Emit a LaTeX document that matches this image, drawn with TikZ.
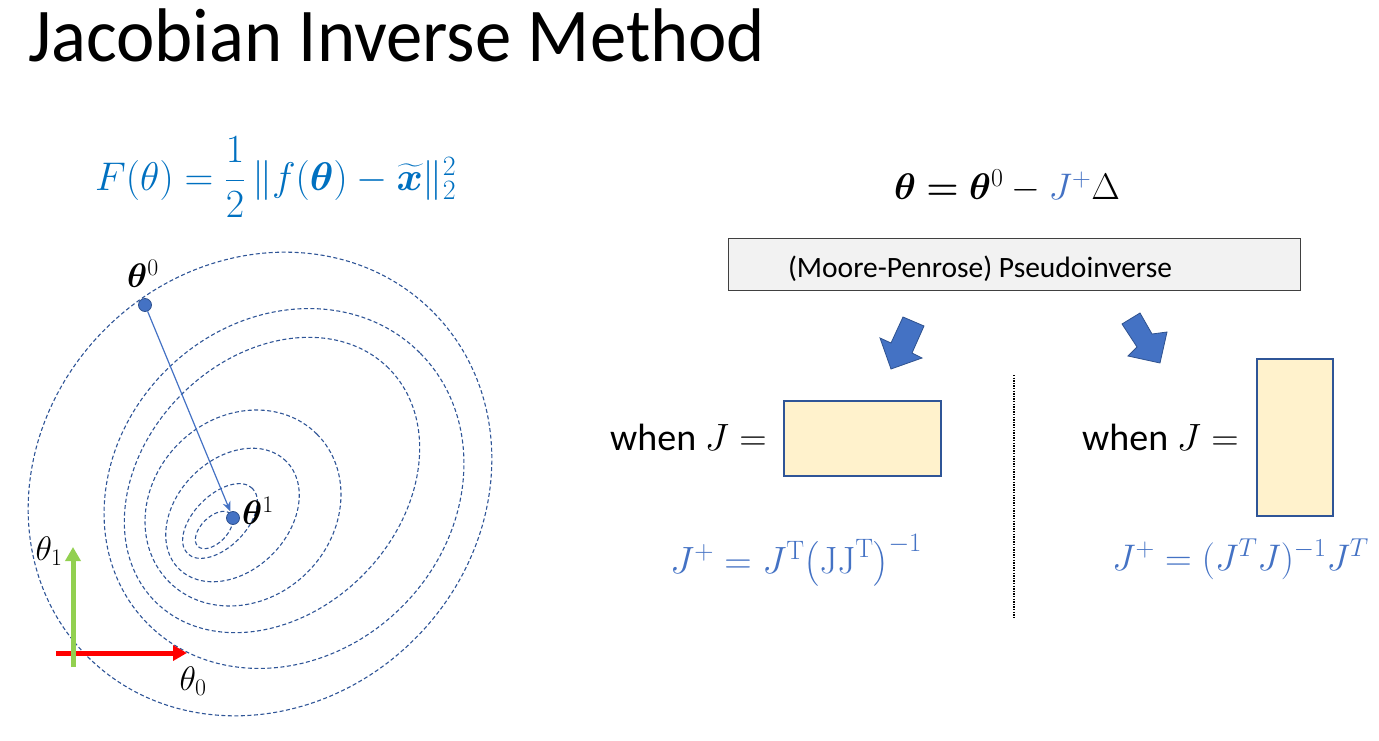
\RequirePackage{fix-cm}
\documentclass[tikz,border=0pt]{standalone}
\usepackage{amsmath,bm}
\usepackage[no-math]{fontspec}
\setmainfont{Carlito}
\usetikzlibrary{arrows.meta}
\definecolor{fblue}{RGB}{0,112,192}
\definecolor{jblue}{RGB}{68,114,196}
\definecolor{jdark}{RGB}{47,82,143}
\definecolor{contour}{RGB}{47,85,151}
\definecolor{ybg}{RGB}{255,242,204}
\definecolor{boxbg}{RGB}{242,242,242}
\definecolor{boxline}{RGB}{64,64,64}
\definecolor{agreen}{RGB}{146,208,80}
\definecolor{ared}{RGB}{255,0,0}
\tikzset{
  contourline/.style={draw=contour, line width=1.1pt, dash pattern=on 4pt off 2.5pt},
  ybox/.style={draw=contour, fill=ybg, line width=1.5pt, inner sep=0},
  dotpt/.style={circle, fill=jblue, draw=jdark, line width=0.8pt, minimum size=13pt, inner sep=0},
  blockarrow/.style={fill=jblue, draw=jdark, line width=0.8pt, line join=miter},
  plain/.style={inner sep=0}
}
\begin{document}
\begin{tikzpicture}[x=1pt,y=-1pt]
\useasboundingbox (0,0) rectangle (1379,741);
% title
\node[plain, anchor=base west] (title) at (28,62) {\scalebox{0.957}[1]{\fontsize{76}{80}\selectfont Jacobian Inverse Method}};
% cost formula
\node[plain, anchor=base west, text=fblue] (cost) at (95,190) {\fontsize{40}{45}\selectfont $F(\theta) = \dfrac{1}{2}\,\|f(\bm{\theta}) - \widetilde{\bm{x}}\|_2^2$};
% contours
\draw[contourline, rotate around={45:(260,484)}] (260,484) ellipse [x radius=244pt, y radius=219pt];
\draw[contourline, rotate around={45:(284,488.5)}] (284,488.5) ellipse [x radius=192pt, y radius=167pt];
\draw[contourline, rotate around={45:(272,485)}] (272,485) ellipse [x radius=165pt, y radius=128pt];
\draw[contourline, rotate around={45:(243,508)}] (243,508) ellipse [x radius=104.5pt, y radius=91pt];
\draw[contourline, rotate around={45:(232.5,515)}] (232.5,515) ellipse [x radius=76pt, y radius=56pt];
\draw[contourline, rotate around={45:(220,521)}] (220,521) ellipse [x radius=46pt, y radius=26pt];
\draw[contourline, rotate around={45:(214,530)}] (214,530) ellipse [x radius=23pt, y radius=13pt];
% axes
\coordinate (x0s) at (56,653);
\coordinate (x0e) at (187,653);
\coordinate (y0s) at (73,667);
\coordinate (y0e) at (73,547);
\draw[ared, line width=5pt, -{Triangle[length=14pt,width=15pt]}] (x0s) -- (x0e);
\draw[agreen, line width=5pt, -{Triangle[length=14pt,width=15pt]}] (y0s) -- (y0e);
\node[plain] (lt1) at (49,551) {\fontsize{34}{38}\selectfont $\theta_1$};
\node[plain] (lt0) at (193,681) {\fontsize{34}{38}\selectfont $\theta_0$};
% points
\node[dotpt] (p0) at (145,305) {};
\node[dotpt] (p1) at (233,518) {};
\draw[jblue, line width=1.2pt, -{Stealth[length=10pt,width=8pt]}] (p0) -- (p1);
\node[plain] (lp0) at (143,274) {\fontsize{34}{38}\selectfont $\bm{\theta}^0$};
\node[plain] (lp1) at (258,511) {\fontsize{34}{38}\selectfont $\bm{\theta}^1$};
% update rule
\node[plain, anchor=base] (upd) at (1007,200) {\fontsize{37}{42}\selectfont $\bm{\theta} \mathrel{\bm{=}} \bm{\theta}^0 - {\color{jblue}J^{+}}\Delta$};
\node[draw=boxline, fill=boxbg, line width=1pt, minimum width=572pt, minimum height=52pt, inner sep=0] (pinv) at (1014,264) {};
\node[plain, anchor=base] (pinvt) at (980,277) {\fontsize{29.5}{34}\selectfont (Moore-Penrose) Pseudoinverse};
% block arrows
\filldraw[blockarrow] (903,317) -- (924,326) -- (912,353) -- (922,358) -- (891,369) -- (880,338) -- (891,343) -- cycle;
\filldraw[blockarrow] (1140,313) -- (1122,324) -- (1137,347) -- (1128,356) -- (1160,363) -- (1167,332) -- (1152,334) -- cycle;
% divider
\coordinate (dv1) at (1014,375);
\coordinate (dv2) at (1014,618);
\draw[black, line width=1.3pt, dash pattern=on 1.3pt off 1.3pt] (dv1) -- (dv2);
% left case
\node[plain, anchor=base west] (whenA) at (610,450) {\fontsize{38}{44}\selectfont when $J =$};
\node[ybox, minimum width=157pt, minimum height=75pt] (rectA) at (862.5,438.5) {};
\node[plain, anchor=base west, text=jblue] (pA) at (670,573) {\fontsize{38}{44}\selectfont $J^{+} = J^{\mathrm{T}}\bigl(\mathrm{JJ}^{\mathrm{T}}\bigr)^{-1}$};
% right case
\node[plain, anchor=base west] (whenB) at (1082,450) {\fontsize{38}{44}\selectfont when $J =$};
\node[ybox, minimum width=76pt, minimum height=157pt] (rectB) at (1295,437.5) {};
\node[plain, anchor=base west, text=jblue] (pB) at (1112,570) {\fontsize{37}{42}\selectfont $J^{+} = (J^{T}J)^{-1}J^{T}$};
\end{tikzpicture}
\end{document}
